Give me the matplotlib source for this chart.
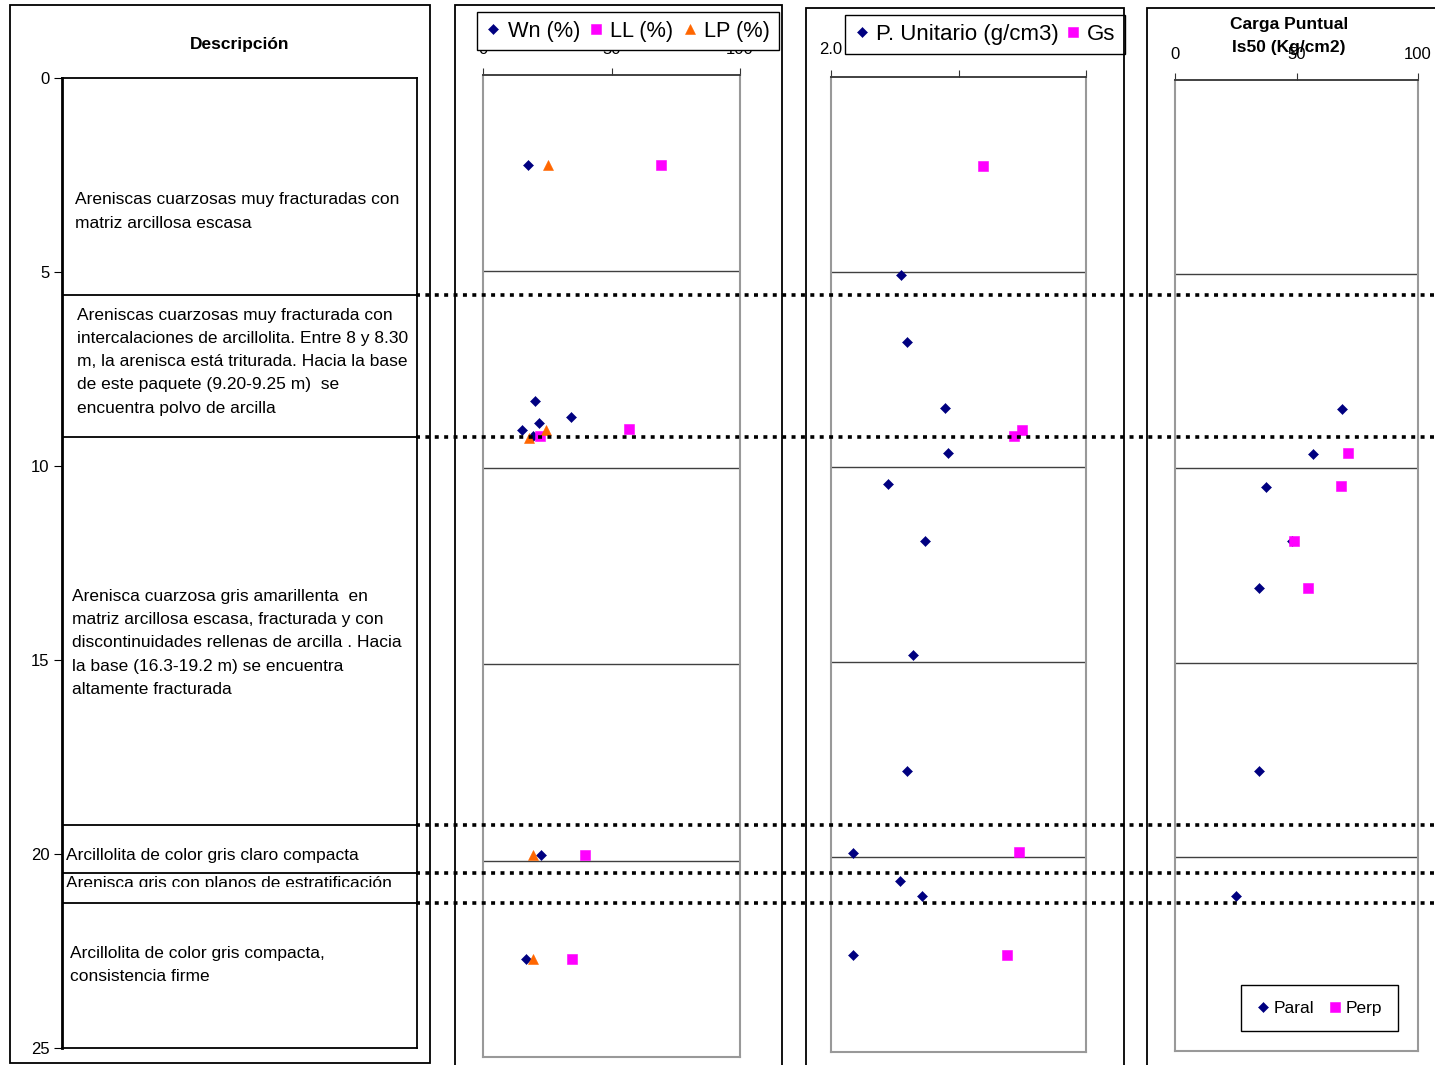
import matplotlib
matplotlib.use('Agg')
import matplotlib.lines
import matplotlib.patches
import matplotlib.pyplot as plt
import matplotlib.transforms

plt.rcParams['font.family'] = ['Liberation Sans', 'DejaVu Sans']

W, H = 1435, 1065

# stratigraphic column
layer_bounds = [5.6, 9.25, 19.25, 20.5, 21.25]
layer_texts = [
    'Areniscas cuarzosas muy fracturadas con\nmatriz arcillosa escasa',
    'Areniscas cuarzosas muy fracturada con\nintercalaciones de arcillolita. Entre 8 y 8.30\n'
    'm, la arenisca está triturada. Hacia la base\nde este paquete (9.20-9.25 m)  se\n'
    'encuentra polvo de arcilla',
    'Arenisca cuarzosa gris amarillenta  en\nmatriz arcillosa escasa, fracturada y con\n'
    'discontinuidades rellenas de arcilla . Hacia\nla base (16.3-19.2 m) se encuentra\n'
    'altamente fracturada',
    'Arcillolita de color gris claro compacta',
    'Arenisca gris con planos de estratificación',
    'Arcillolita de color gris compacta,\nconsistencia firme',
]

# water content and Atterberg limits (%)
wn_depth = [2.3, 8.3, 8.7, 8.85, 9.05, 9.2, 19.85, 22.5]
wn = [17.5, 20.2, 34.2, 21.8, 15.2, 19.5, 22.6, 16.7]
ll_depth = [2.3, 9.0, 9.2, 19.85, 22.5]
ll = [69.3, 56.8, 22.2, 39.7, 34.6]
lp_depth = [2.3, 9.05, 9.25, 19.85, 22.5]
lp = [25.3, 24.5, 17.9, 19.5, 19.5]

# unit weight and specific gravity
pu_depth = [5.08, 6.79, 8.49, 9.64, 10.44, 11.9, 14.82, 17.8, 19.9, 20.62, 21.0, 22.52]
pu = [2.275, 2.298, 2.447, 2.459, 2.224, 2.369, 2.322, 2.298, 2.088, 2.271, 2.355, 2.088]
gs_depth = [2.28, 9.05, 9.2, 19.87, 22.5]
gs = [2.596, 2.749, 2.718, 2.737, 2.69]

# point load index
paral_depth = [8.48, 9.64, 10.49, 11.88, 13.09, 17.78, 21.0]
paral = [68.7, 56.8, 37.4, 48.1, 34.6, 34.6, 25.1]
perp_depth = [9.61, 10.46, 11.88, 13.07]
perp = [71.2, 68.3, 49.0, 54.7]

NAVY = '#000080'
MAGENTA = '#FF00FF'
ORANGE = '#FF6600'


def fx(x):
    return x / W


def fy(y):
    return 1 - y / H


def px_axes(fig, left, top, right, bottom):
    return fig.add_axes([fx(left), fy(bottom), (right - left) / W, (bottom - top) / H])


def frame(fig, left, top, right, bottom):
    fig.add_artist(matplotlib.patches.Rectangle(
        (fx(left), fy(bottom)), (right - left) / W, (bottom - top) / H,
        transform=fig.transFigure, fill=False, edgecolor='black', linewidth=1.3))


def format_panel(ax, xlim, xticks, xticklabels, pad):
    ax.set_xlim(*xlim)
    ax.set_ylim(25, 0)
    ax.xaxis.tick_top()
    ax.set_xticks(xticks)
    ax.set_xticklabels(xticklabels)
    ax.tick_params(axis='x', direction='out', length=5, pad=pad, labelsize=12,
                   color='#333333')
    ax.set_yticks([5, 10, 15, 20])
    ax.tick_params(axis='y', length=0, labelleft=False)
    ax.grid(axis='y', color='#404040', linewidth=1.0)
    ax.set_axisbelow(True)
    for side in ('left', 'right', 'bottom'):
        ax.spines[side].set_color('#999999')
        ax.spines[side].set_linewidth(1.5)
    ax.spines['top'].set_color('#333333')
    ax.spines['top'].set_linewidth(1.3)


def marker(ax, x, y, style, color, size, label):
    return ax.plot(x, y, style, color=color, markersize=size, markeredgewidth=0.4,
                   markeredgecolor=color, linestyle='none', label=label,
                   clip_on=False)[0]


def legend(ax, fig, handles, x, y, ncol, fontsize, **kw):
    leg = ax.legend(handles=handles, loc='upper left',
                    bbox_to_anchor=(fx(x), fy(y)), bbox_transform=fig.transFigure,
                    ncol=ncol, fontsize=fontsize, frameon=True, fancybox=False,
                    framealpha=1, edgecolor='black', borderaxespad=0,
                    handlelength=0.7, handletextpad=0.3, **kw)
    leg.get_frame().set_linewidth(1.0)
    return leg


def plot(output_filename):
    fig = plt.figure(figsize=(W / 100, H / 100), dpi=100)

    # description column
    ax1 = px_axes(fig, 62, 78, 417, 1048)
    ax1.set_xlim(0, 1)
    ax1.set_ylim(25, 0)
    ax1.set_xticks([])
    ax1.set_yticks([0, 5, 10, 15, 20, 25])
    ax1.tick_params(axis='y', direction='out', length=6, pad=3, labelsize=12)
    for side in ('top', 'right', 'bottom'):
        ax1.spines[side].set_linewidth(1.3)
    ax1.spines['left'].set_linewidth(2.0)
    for b in layer_bounds:
        ax1.axhline(b, color='black', linewidth=1.3)

    text_pos = [(0.037, 3.44), (0.042, 7.31), (0.028, 14.56), (0.011, 20.03),
                (0.011, 20.87), (0.0225, 22.87)]
    for (x, y), s in zip(text_pos, layer_texts):
        va = 'baseline' if s.startswith('Arenisca gris') else 'center'
        t = ax1.text(x, y, s, fontsize=12.5, va=va, ha='left', linespacing=1.69)
        if va == 'baseline':
            # the thin layer's label is cut off at its text box
            clip = matplotlib.patches.Rectangle((0, layer_bounds[3]), 1, 20.84 - layer_bounds[3],
                                                transform=ax1.transData)
            t.set_clip_on(True)
            t.set_clip_path(clip)
    fig.text(fx(240), fy(44), 'Descripción', fontsize=12.5, fontweight='bold',
             ha='center', va='center')

    # Wn / LL / LP
    ax2 = px_axes(fig, 483, 75, 740, 1057)
    format_panel(ax2, (0, 100), [0, 50, 100], ['0', '50', '100'], 8)
    h = [marker(ax2, wn, wn_depth, 'D', NAVY, 5.6, 'Wn (%)'),
         marker(ax2, ll, ll_depth, 's', MAGENTA, 6.5, 'LL (%)'),
         marker(ax2, lp, lp_depth, '^', ORANGE, 7.5, 'LP (%)')]
    legend(ax2, fig, h, 477, 12, 3, 15.7, columnspacing=0.4, borderpad=0.4)

    # unit weight / Gs
    ax3 = px_axes(fig, 831, 77, 1086, 1052)
    format_panel(ax3, (2.0, 3.0), [2.0, 2.5, 3.0], ['2.0', '2.5', '3.0'], 9.5)
    h = [marker(ax3, pu, pu_depth, 'D', NAVY, 5.6, 'P. Unitario (g/cm3)'),
         marker(ax3, gs, gs_depth, 's', MAGENTA, 6.5, 'Gs')]
    legend(ax3, fig, h, 845, 15, 2, 16, columnspacing=0.28, borderpad=0.4)

    # point load
    ax4 = px_axes(fig, 1175, 80, 1418, 1051)
    format_panel(ax4, (0, 100), [0, 50, 100], ['0', '50', '100'], 8)
    h = [marker(ax4, paral, paral_depth, 'D', NAVY, 5.6, 'Paral'),
         marker(ax4, perp, perp_depth, 's', MAGENTA, 6.5, 'Perp')]
    legend(ax4, fig, h, 1241, 985, 2, 12.5, columnspacing=0.8, borderpad=0.9)
    fig.text(fx(1289), fy(36), 'Carga Puntual\nIs50 (Kg/cm2)', fontsize=12.5,
             fontweight='bold', ha='center', va='center', linespacing=1.6)

    # panel frames
    frame(fig, 10, 5, 430, 1063)
    frame(fig, 455, 5, 782, 1075)
    frame(fig, 806, 8, 1124, 1075)
    frame(fig, 1147, 8, 1445, 1075)

    # layer contacts carried across all panels
    trans = matplotlib.transforms.blended_transform_factory(fig.transFigure, ax1.transData)
    for b in layer_bounds:
        fig.add_artist(matplotlib.lines.Line2D(
            [fx(416), 1.0], [b, b], transform=trans, color='black',
            linewidth=2.6, linestyle=(0, (1.1, 1.5)), dash_capstyle='butt',
            zorder=10))

    fig.savefig(output_filename, dpi=100)


if __name__ == '__main__':
    plot('out.png')
